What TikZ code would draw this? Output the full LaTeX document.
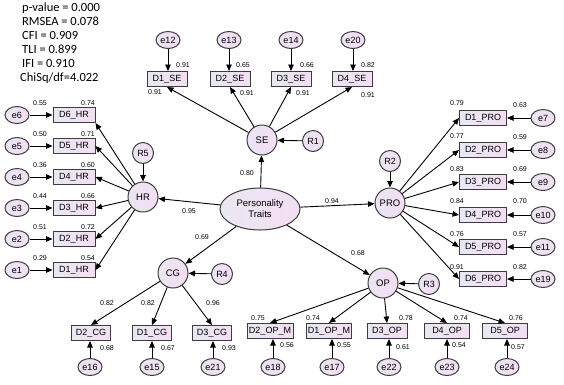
\documentclass[tikz,border=0pt]{standalone}
\usepackage{fontspec}
\setmainfont{Liberation Sans}
\newfontfamily\statfont{Carlito}
\usepackage{xcolor}
\usepackage{tikz}
\usetikzlibrary{shapes.geometric,arrows.meta,positioning,calc}

\definecolor{boxleft}{RGB}{232,232,242}
\definecolor{boxright}{RGB}{244,222,244}
\definecolor{latfill}{RGB}{236,224,242}
\definecolor{edge}{RGB}{60,60,60}

\begin{document}
\begin{tikzpicture}[
    x=1pt, y=-1pt,
    obs/.style={rectangle, draw=edge, line width=1pt, left color=boxleft, right color=boxright, minimum height=15, inner sep=1pt, font=\fontsize{9}{10}\selectfont},
    err/.style={ellipse, draw=edge, line width=1pt, left color=boxleft!60!latfill, right color=boxright, minimum width=24, minimum height=17, inner sep=0pt, font=\fontsize{9}{10}\selectfont},
    latent/.style={circle, draw=edge, line width=1pt, left color=boxleft!60!latfill, right color=boxright, minimum size=30, inner sep=0pt, font=\fontsize{9.5}{10}\selectfont},
    resid/.style={circle, draw=edge, line width=1pt, left color=boxleft!60!latfill, right color=boxright, minimum size=21, inner sep=0pt, font=\fontsize{9}{10}\selectfont},
    num/.style={inner sep=0pt, font=\fontsize{7}{8}\selectfont},
    arrow/.style={-{Triangle[length=6.5pt,width=5.5pt]}, line width=0.9pt, draw=black}
]
    \useasboundingbox (0,0) rectangle (564,384);

    % fit indices
    \node [anchor=north west, align=left, inner sep=0pt, font=\statfont\fontsize{12.5}{14}\selectfont] (fit) at (20,3)
        {\hspace{2pt}p-value = 0.000\\\hspace{2pt}RMSEA = 0.078\\\hspace{2pt}CFI = 0.909\\\hspace{2pt}TLI = 0.899\\\hspace{2pt}IFI = 0.910\\ChiSq/df=4.022};

    % central construct
    \node [ellipse, draw=edge, line width=1pt, left color=boxleft, right color=boxright, minimum width=80, minimum height=42, align=center, inner sep=0pt, font=\fontsize{9.5}{11}\selectfont] (pt) at (260,209) {Personality\\Traits};

    % first-order factors
    \node [latent] (se) at (262,140) {SE};
    \node [latent] (hr) at (143,197) {HR};
    \node [latent] (pro) at (390,203) {PRO};
    \node [latent] (cg) at (173,273) {CG};
    \node [latent] (op) at (383,283) {OP};
    \node [resid] (r1) at (313,141) {R1};
    \node [resid] (r5) at (143,153) {R5};
    \node [resid] (r2) at (390,161) {R2};
    \node [resid] (r4) at (222,274) {R4};
    \node [resid] (r3) at (429,284) {R3};

    \draw [arrow] (pt) -- (se);
    \draw [arrow] (pt) -- (hr);
    \draw [arrow] (pt) -- (pro);
    \draw [arrow] (pt) -- (cg);
    \draw [arrow] (pt) -- (op);
    \draw [arrow] (r1) -- (se);
    \draw [arrow] (r5) -- (hr);
    \draw [arrow] (r2) -- (pro);
    \draw [arrow] (r4) -- (cg);
    \draw [arrow] (r3) -- (op);
    \node [num] at (247,173) {0.80};
    \node [num] at (189,211) {0.95};
    \node [num] at (332,201) {0.94};
    \node [num] at (202,237) {0.69};
    \node [num] at (358,253) {0.68};

    % SE indicators
    \node [obs, minimum width=40] (se1) at (167,79) {D1\_SE};
    \node [obs, minimum width=40] (se2) at (230,79) {D2\_SE};
    \node [obs, minimum width=40] (se3) at (291,79) {D3\_SE};
    \node [obs, minimum width=40] (se4) at (352,79) {D4\_SE};
    \node [err] (e12) at (168,40) {e12};
    \node [err] (e13) at (229,40) {e13};
    \node [err] (e14) at (291,40) {e14};
    \node [err] (e20) at (353,40) {e20};
    \draw [arrow] (se) -- (se1.south);
    \draw [arrow] (se) -- (se2.south);
    \draw [arrow] (se) -- (se3.south);
    \draw [arrow] (se) -- (se4.south);
    \draw [arrow] (e12) -- (e12 |- se1.north);
    \draw [arrow] (e13) -- (e13 |- se2.north);
    \draw [arrow] (e14) -- (e14 |- se3.north);
    \draw [arrow] (e20) -- (e20 |- se4.north);
    \node [num] at (183,65) {0.91};
    \node [num] at (243,65) {0.65};
    \node [num] at (307,65) {0.66};
    \node [num] at (368,65) {0.82};
    \node [num] at (155,92) {0.91};
    \node [num] at (247,93) {0.91};
    \node [num] at (303,93) {0.91};
    \node [num] at (368,95) {0.91};

    % HR indicators
    \node [obs, minimum width=42] (hr6) at (74,115) {D6\_HR};
    \node [obs, minimum width=42] (hr5) at (74,146) {D5\_HR};
    \node [obs, minimum width=42] (hr4) at (74,177) {D4\_HR};
    \node [obs, minimum width=42] (hr3) at (74,208) {D3\_HR};
    \node [obs, minimum width=42] (hr2) at (74,239) {D2\_HR};
    \node [obs, minimum width=42] (hr1) at (74,270) {D1\_HR};
    \node [err] (e6) at (17,115) {e6};
    \node [err] (e5) at (17,146) {e5};
    \node [err] (e4) at (17,177) {e4};
    \node [err] (e3) at (17,208) {e3};
    \node [err] (e2) at (17,239) {e2};
    \node [err] (e1) at (17,270) {e1};
    \draw [arrow] (hr) -- (hr6.south east);
    \draw [arrow] (hr) -- (hr5.east);
    \draw [arrow] (hr) -- (hr4.east);
    \draw [arrow] (hr) -- (hr3.east);
    \draw [arrow] (hr) -- (hr2.east);
    \draw [arrow] (hr) -- (hr1.east);
    \draw [arrow] (e6) -- (hr6);
    \draw [arrow] (e5) -- (hr5);
    \draw [arrow] (e4) -- (hr4);
    \draw [arrow] (e3) -- (hr3);
    \draw [arrow] (e2) -- (hr2);
    \draw [arrow] (e1) -- (hr1);
    \node [num] at (40,103) {0.55};   \node [num] at (88,103) {0.74};
    \node [num] at (40,134) {0.50};   \node [num] at (88,134) {0.71};
    \node [num] at (40,165) {0.36};   \node [num] at (88,165) {0.60};
    \node [num] at (40,196) {0.44};   \node [num] at (88,196) {0.66};
    \node [num] at (40,227) {0.51};   \node [num] at (88,227) {0.72};
    \node [num] at (40,258) {0.29};   \node [num] at (88,258) {0.54};

    % PRO indicators
    \node [obs, minimum width=47] (pro1) at (483,118) {D1\_PRO};
    \node [obs, minimum width=47] (pro2) at (483,150) {D2\_PRO};
    \node [obs, minimum width=47] (pro3) at (483,182) {D3\_PRO};
    \node [obs, minimum width=47] (pro4) at (483,215) {D4\_PRO};
    \node [obs, minimum width=47] (pro5) at (483,247) {D5\_PRO};
    \node [obs, minimum width=47] (pro6) at (483,279) {D6\_PRO};
    \node [err] (e7) at (543,118) {e7};
    \node [err] (e8) at (543,150) {e8};
    \node [err] (e9) at (543,182) {e9};
    \node [err] (e10) at (543,215) {e10};
    \node [err] (e11) at (543,247) {e11};
    \node [err] (e19) at (543,279) {e19};
    \draw [arrow] (pro) -- (pro1.west);
    \draw [arrow] (pro) -- (pro2.west);
    \draw [arrow] (pro) -- (pro3.west);
    \draw [arrow] (pro) -- (pro4.west);
    \draw [arrow] (pro) -- (pro5.west);
    \draw [arrow] (pro) -- (pro6.west);
    \draw [arrow] (e7) -- (pro1);
    \draw [arrow] (e8) -- (pro2);
    \draw [arrow] (e9) -- (pro3);
    \draw [arrow] (e10) -- (pro4);
    \draw [arrow] (e11) -- (pro5);
    \draw [arrow] (e19) -- (pro6);
    \node [num] at (457,103) {0.79};   \node [num] at (520,105) {0.63};
    \node [num] at (457,136) {0.77};   \node [num] at (520,137) {0.59};
    \node [num] at (457,169) {0.83};   \node [num] at (520,169) {0.69};
    \node [num] at (457,201) {0.84};   \node [num] at (520,201) {0.70};
    \node [num] at (457,234) {0.76};   \node [num] at (520,234) {0.57};
    \node [num] at (457,267) {0.91};   \node [num] at (520,267) {0.82};

    % CG indicators
    \node [obs, minimum width=39] (cg2) at (91,333) {D2\_CG};
    \node [obs, minimum width=39] (cg1) at (152,333) {D1\_CG};
    \node [obs, minimum width=39] (cg3) at (212,333) {D3\_CG};
    \node [err] (e16) at (90,367) {e16};
    \node [err] (e15) at (152,367) {e15};
    \node [err] (e21) at (213,367) {e21};
    \draw [arrow] (cg) -- (cg2.north);
    \draw [arrow] (cg) -- (cg1.north);
    \draw [arrow] (cg) -- (cg3.north);
    \draw [arrow] (e16) -- (e16 |- cg2.south);
    \draw [arrow] (e15) -- (e15 |- cg1.south);
    \draw [arrow] (e21) -- (e21 |- cg3.south);
    \node [num] at (107,303) {0.82};
    \node [num] at (148,303) {0.82};
    \node [num] at (213,303) {0.96};
    \node [num] at (107,348) {0.68};
    \node [num] at (168,348) {0.67};
    \node [num] at (229,348) {0.93};

    % OP indicators
    \node [obs, minimum width=46] (op2) at (270,331) {D2\_OP\_M};
    \node [obs, minimum width=42] (op1) at (329,331) {D1\_OP\_M};
    \node [obs, minimum width=40] (op3) at (387,331) {D3\_OP};
    \node [obs, minimum width=45] (op4) at (447,331) {D4\_OP};
    \node [obs, minimum width=45] (op5) at (505,331) {D5\_OP};
    \node [err] (e18) at (273,367) {e18};
    \node [err] (e17) at (332,367) {e17};
    \node [err] (e22) at (389,367) {e22};
    \node [err] (e23) at (447,367) {e23};
    \node [err] (e24) at (507,367) {e24};
    \draw [arrow] (op) -- (op2.north);
    \draw [arrow] (op) -- (op1.north);
    \draw [arrow] (op) -- (op3.north);
    \draw [arrow] (op) -- (op4.north);
    \draw [arrow] (op) -- (op5.north);
    \draw [arrow] (e18) -- (e18 |- op2.south);
    \draw [arrow] (e17) -- (e17 |- op1.south);
    \draw [arrow] (e22) -- (e22 |- op3.south);
    \draw [arrow] (e23) -- (e23 |- op4.south);
    \draw [arrow] (e24) -- (e24 |- op5.south);
    \node [num] at (258,318) {0.75};
    \node [num] at (313,318) {0.74};
    \node [num] at (406,318) {0.78};
    \node [num] at (461,318) {0.74};
    \node [num] at (516,318) {0.76};
    \node [num] at (287,345) {0.56};
    \node [num] at (344,345) {0.55};
    \node [num] at (403,347) {0.61};
    \node [num] at (459,345) {0.54};
    \node [num] at (518,347) {0.57};
\end{tikzpicture}
\end{document}
